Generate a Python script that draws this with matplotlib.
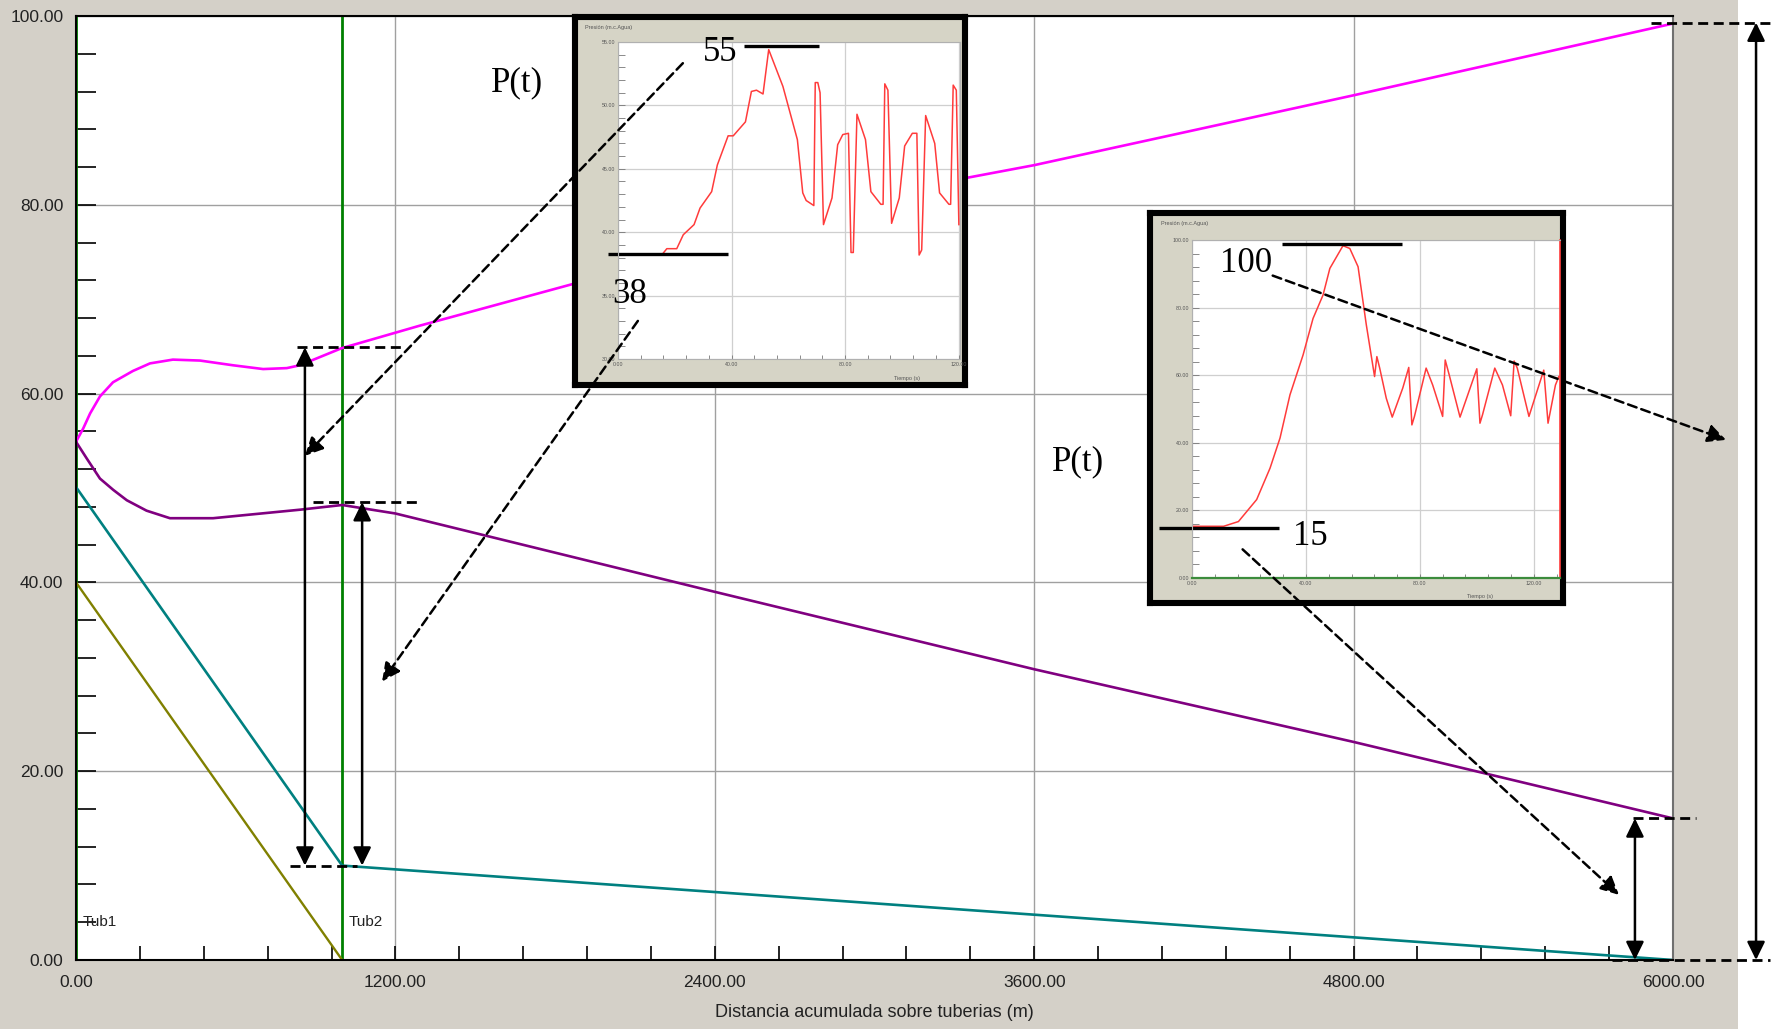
import numpy as np
import matplotlib.pyplot as plt
from matplotlib.patches import Rectangle
from matplotlib.ticker import MultipleLocator, FormatStrFormatter

plt.rcParams['font.family'] = ['Liberation Sans', 'DejaVu Sans']
SERIF = ['Liberation Serif', 'DejaVu Serif']

W, H = 1771, 1029  # px de la figura
GRIS = '#d4d0c8'

# ---- perfil principal: distancia (m) vs presion (m.c.Agua)
dist_max = [0, 27, 53, 90, 139, 214, 278, 364, 466, 590, 703, 792, 841, 997, 1292, 2100,
            3336, 3600, 4800, 6000]
p_max = [54.9, 56.3, 57.9, 59.7, 61.2, 62.4, 63.2, 63.6, 63.5, 63.0, 62.6, 62.7, 63.0, 64.8,
         67.2, 73.4, 82.8, 84.2, 91.6, 99.2]

dist_min = [0, 41, 90, 140, 191, 265, 353, 515, 841, 1000, 1200, 2400, 3600, 4800, 6000]
p_min = [54.9, 53.1, 51.0, 49.8, 48.7, 47.6, 46.8, 46.8, 47.7, 48.2, 47.3, 39.0, 30.8, 23.1, 15.0]

dist_plc = [0, 1000, 6000]
p_plc = [50.1, 10.0, 0.0]

dist_cota = [0, 1000]
p_cota = [40.0, 0.0]

tub_x = [0, 1000]
tub_nombres = ['Tub1', 'Tub2']

# ---- registros P(t) de los recuadros
t1 = [0, 15.4, 17.2, 20.7, 23.0, 26.8, 28.9, 33.0, 35.0, 38.8, 40.6, 44.9, 47.0, 48.8, 51.1,
      53.1, 58.1, 63.2, 65.1, 66.3, 69.0, 69.5, 70.4, 71.2, 72.4, 75.4, 77.4, 79.2, 81.2, 82.1,
      82.9, 84.2, 87.2, 89.1, 92.6, 93.4, 94.0, 95.1, 96.4, 99.1, 101.0, 103.7, 105.3, 106.1,
      107.0, 108.4, 111.6, 113.3, 116.6, 117.2, 118.1, 119.2, 120.1]
p1 = [38.2, 38.2, 38.7, 38.7, 39.8, 40.6, 41.9, 43.2, 45.3, 47.6, 47.6, 48.7, 51.1, 51.2, 50.9,
      54.4, 51.5, 47.3, 43.1, 42.5, 42.1, 51.8, 51.8, 51.0, 40.6, 42.7, 46.9, 47.7, 47.8, 38.4,
      38.4, 49.3, 47.3, 43.2, 42.2, 42.2, 51.7, 51.2, 40.7, 42.7, 46.8, 47.8, 47.8, 38.2,
      38.6, 49.2, 47.0, 43.1, 42.2, 42.2, 51.6, 51.2, 40.6]

t2 = [0, 11.1, 16.3, 22.7, 27.4, 30.9, 34.4, 39.0, 42.5, 46.0, 48.4, 53.0, 55.4, 58.3, 61.2,
      64.1, 64.9, 65.9, 68.2, 70.3, 74.0, 76.1, 77.2, 78.1, 82.2, 84.5, 88.0, 88.9, 90.3, 94.1,
      100.0, 101.1, 102.0, 106.3, 109.0, 111.9, 113.1, 114.2, 118.3, 123.5, 125.0, 127.6, 128.8]
p2 = [15.3, 15.3, 16.7, 23.2, 32.5, 41.4, 54.2, 66.0, 76.8, 83.7, 91.6, 98.3, 97.5, 92.1, 74.9,
      59.6, 65.5, 62.1, 53.2, 47.6, 56.2, 62.3, 45.3, 47.8, 62.1, 57.1, 47.8, 64.5, 60.1, 47.6,
      61.9, 45.8, 48.3, 62.1, 57.1, 48.0, 64.2, 62.1, 47.8, 61.5, 45.8, 57.1, 59.6]

# valores marcados en los recuadros
p1_min, p1_max = 38, 55
p2_min, p2_max = 15, 100


def rect(x0, y0, x1, y1):
    # px de pantalla -> fraccion de figura
    return [x0 / W, 1 - y1 / H, (x1 - x0) / W, (y1 - y0) / H]


fig = plt.figure(figsize=(W / 100, H / 100), dpi=100, facecolor=GRIS)
fig.add_artist(Rectangle((1738 / W, 0), 1 - 1738 / W, 1, transform=fig.transFigure,
                         facecolor='white', edgecolor='none', zorder=-5))

# ---------------- grafico principal
ax = fig.add_axes(rect(76, 16, 1673, 960))
ax.set_xlim(0, 6000)
ax.set_ylim(0, 100)
ax.set_axisbelow(True)
ax.grid(True, which='major', color='#a0a0a0', lw=1)

ax.plot(dist_cota, p_cota, color='#808000', lw=1.7)
ax.plot(dist_plc, p_plc, color='#008080', lw=1.9)
ax.plot(dist_min, p_min, color='#800080', lw=1.9)
ax.plot(dist_max, p_max, color='#ff00ff', lw=1.9)
for xt, nom in zip(tub_x, tub_nombres):
    ax.axvline(xt, color='#008000', lw=2, zorder=1.5)
    ax.text(xt + 25, 4.0, nom, fontsize=11, va='center', ha='left', color='#222222')

ax.xaxis.set_major_locator(MultipleLocator(1200))
ax.xaxis.set_minor_locator(MultipleLocator(240))
ax.yaxis.set_major_locator(MultipleLocator(20))
ax.yaxis.set_minor_locator(MultipleLocator(4))
ax.xaxis.set_major_formatter(FormatStrFormatter('%.2f'))
ax.yaxis.set_major_formatter(FormatStrFormatter('%.2f'))
ax.tick_params(which='both', direction='in', width=1.2, labelsize=12.5, labelcolor='#222222')
ax.tick_params(axis='y', which='both', length=14.5, pad=9)
ax.tick_params(axis='x', which='both', length=10, pad=11)
ax.set_xlabel('Distancia acumulada sobre tuberias (m)', fontsize=13, color='#222222', labelpad=10)
for s in ['left', 'bottom', 'top']:
    ax.spines[s].set_color('black')
    ax.spines[s].set_linewidth(1.5)
ax.spines['right'].set_color('#707070')
ax.spines['right'].set_linewidth(1.5)

ax.text(1658, 92.9, 'P(t)', family=SERIF, fontsize=25, ha='center', va='center')
ax.text(3766, 52.8, 'P(t)', family=SERIF, fontsize=25, ha='center', va='center')


# ---------------- recuadros con P(t)
def recuadro(caja, area, t, p, xmax, ylim, ymaj, ymin_loc, bajo, alto, txt_bajo, txt_alto,
             eje_verde=False):
    panel = fig.add_axes(rect(*caja))
    panel.set_facecolor('#d6d4c6')
    panel.set_xticks([])
    panel.set_yticks([])
    for s in panel.spines.values():
        s.set_linewidth(4.4)
        s.set_color('black')
    panel.text(0.026, 0.972, 'Presión (m.c.Agua)', transform=panel.transAxes, fontsize=4,
               color='#555555', va='center')
    panel.text(0.80 if eje_verde else 0.85, 0.017, 'Tiempo (s)', transform=panel.transAxes,
               fontsize=4, color='#555555', va='center', ha='center')

    a = fig.add_axes(rect(*area))
    a.set_xlim(0, xmax)
    a.set_ylim(*ylim)
    a.set_axisbelow(True)
    a.grid(True, which='major', color='#cfcfcf', lw=0.9)
    a.plot(t, p, color='#ff3b3b', lw=1.1)
    a.xaxis.set_major_locator(MultipleLocator(40))
    a.xaxis.set_minor_locator(MultipleLocator(8))
    a.yaxis.set_major_locator(MultipleLocator(ymaj))
    a.yaxis.set_minor_locator(MultipleLocator(ymin_loc))
    a.xaxis.set_major_formatter(FormatStrFormatter('%.2f'))
    a.yaxis.set_major_formatter(FormatStrFormatter('%.2f'))
    a.tick_params(which='both', direction='in', labelsize=3.8, labelcolor='#555555',
                  color='#777777', width=0.6, pad=2)
    a.tick_params(axis='y', which='both', length=5)
    a.tick_params(axis='x', which='both', length=3)
    for s in a.spines.values():
        s.set_color('#b0b0b0')
        s.set_linewidth(0.8)
    if eje_verde:
        a.spines['bottom'].set_color('#3c8c3c')
        a.spines['bottom'].set_linewidth(1.6)
        a.spines['right'].set_color('#ff3b3b')
        a.spines['right'].set_linewidth(1.2)

    # barras y valores de presion minima / maxima
    a.plot(bajo[0], bajo[1], color='black', lw=2.4, clip_on=False, solid_capstyle='butt')
    a.plot(alto[0], alto[1], color='black', lw=2.4, clip_on=False, solid_capstyle='butt')
    a.text(*txt_bajo, family=SERIF, fontsize=25, ha='center', va='center', clip_on=False)
    a.text(*txt_alto, family=SERIF, fontsize=25, ha='center', va='center', clip_on=False)
    return a


recuadro((575, 17, 965, 385), (618, 42, 960, 359), t1, p1, 120.5, (30, 55), 5, 1,
         ([-3.4, 38.8], [38.3, 38.3]), ([44.3, 70.8], [54.7, 54.7]),
         (4.2, 35.1, str(p1_min)), (36.1, 54.2, str(p1_max)))
recuadro((1150, 213, 1563, 603), (1192, 240, 1560, 578), t2, p2, 129.2, (0, 100), 20, 4,
         ([-11.5, 30.7], [14.8, 14.8]), ([31.6, 73.7], [98.8, 98.8]),
         (41.7, 12.3, str(p2_min)), (19.1, 92.9, str(p2_max)), eje_verde=True)

# ---------------- capa de anotaciones (encima de todo)
ov = fig.add_axes(rect(76, 16, 1673, 960), label='anotaciones')
ov.set_xlim(0, 6000)
ov.set_ylim(0, 100)
ov.axis('off')

DASH = (0, (3.6, 2.0))
DOBLE = '<|-|>,head_length=0.55,head_width=0.27'
SIMPLE = '-|>,head_length=0.55,head_width=0.27'


def flecha(x0, y0, x1, y1, estilo, ls='-'):
    ov.annotate('', xy=(x1, y1), xytext=(x0, y0), annotation_clip=False,
                arrowprops=dict(arrowstyle=estilo, color='black', lw=1.8, ls=ls,
                                shrinkA=0, shrinkB=0, mutation_scale=20))


def raya(x0, x1, y):
    ov.plot([x0, x1], [y, y], color='black', lw=2, ls=DASH, clip_on=False)


# sobrepresion en el nudo Tub1-Tub2
raya(830, 1230, 64.9)
raya(804, 1055, 10.0)
raya(890, 1280, 48.5)
flecha(860, 10.0, 860, 64.9, DOBLE)
flecha(1075, 10.0, 1075, 48.5, DOBLE)

# extremo final
raya(5850, 6087, 15.0)
raya(5770, 6365, 0.0)
raya(5918, 6365, 99.3)
flecha(5857, 0.0, 5857, 15.0, DOBLE)
flecha(6312, 0.0, 6312, 99.3, DOBLE)

# enlaces de los recuadros
flecha(2280, 95.0, 860, 53.4, SIMPLE, DASH)
flecha(2111, 67.7, 1150, 29.5, SIMPLE, DASH)
flecha(4496, 72.5, 6199, 55.1, SIMPLE, DASH)
flecha(4383, 43.5, 5797, 6.9, SIMPLE, DASH)

fig.savefig('out.png', dpi=100, facecolor=fig.get_facecolor())
